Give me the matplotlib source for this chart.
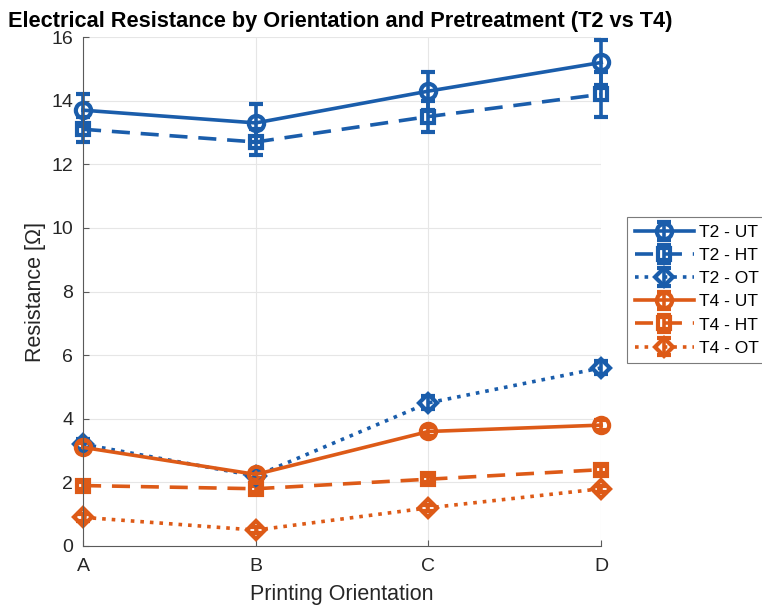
import numpy as np
import matplotlib.pyplot as plt

plt.rcParams['font.family'] = ['Liberation Sans', 'DejaVu Sans']

orientations = ['A', 'B', 'C', 'D']

t2_ut = [13.7, 13.3, 14.3, 15.2]
t2_ut_err = [0.5, 0.6, 0.6, 0.7]
t2_ht = [13.1, 12.7, 13.5, 14.2]
t2_ht_err = [0.4, 0.4, 0.5, 0.7]
t2_ot = [3.2, 2.2, 4.5, 5.6]
t2_ot_err = [0.15, 0.1, 0.2, 0.2]

t4_ut = [3.1, 2.25, 3.6, 3.8]
t4_ut_err = [0.15, 0.1, 0.15, 0.15]
t4_ht = [1.9, 1.8, 2.1, 2.4]
t4_ht_err = [0.1, 0.1, 0.1, 0.1]
t4_ot = [0.9, 0.5, 1.2, 1.8]
t4_ot_err = [0.1, 0.1, 0.1, 0.1]

blue = '#1A5DAB'
orange = '#DD5A17'
axcol = '#5a5a5a'

x = np.arange(len(orientations))

fig = plt.figure(figsize=(7.62, 6.07), dpi=100)
ax = fig.add_axes([0.109, 0.1005, 0.68, 0.8385])

series = [
    (t2_ut, t2_ut_err, blue, '-', 'o', 'T2 - UT'),
    (t2_ht, t2_ht_err, blue, (0, (5, 3)), 's', 'T2 - HT'),
    (t2_ot, t2_ot_err, blue, ':', 'D', 'T2 - OT'),
    (t4_ut, t4_ut_err, orange, '-', 'o', 'T4 - UT'),
    (t4_ht, t4_ht_err, orange, (0, (5, 3)), 's', 'T4 - HT'),
    (t4_ot, t4_ot_err, orange, ':', 'D', 'T4 - OT'),
]
marker_sizes = {'o': 11, 's': 9, 'D': 9}

for vals, err, col, ls, mk, lab in series:
    eb = ax.errorbar(x, vals, yerr=err, color=col, linestyle=ls, marker=mk,
                     markersize=marker_sizes[mk], markerfacecolor='none',
                     markeredgewidth=3, linewidth=2.6, elinewidth=2.6,
                     capsize=5, capthick=2.6, label=lab)
    for art in eb.lines[:1] + tuple(eb.lines[1]) + tuple(eb.lines[2]):
        art.set_clip_on(False)

ax.set_xlim(0, 3)
ax.set_ylim(0, 16)
ax.set_xticks(x)
ax.set_xticklabels(orientations)
ax.set_yticks(np.arange(0, 17, 2))
ax.tick_params(direction='in', labelsize=14, length=4, color=axcol,
               labelcolor='#262626')
ax.tick_params(axis='x', pad=9)
ax.tick_params(axis='y', pad=7)
ax.grid(True, color='#e6e6e6', linewidth=0.8)
ax.set_axisbelow(True)
for s in ['top', 'right']:
    ax.spines[s].set_visible(False)
for s in ['left', 'bottom']:
    ax.spines[s].set_color(axcol)

ax.set_xlabel('Printing Orientation', fontsize=15.5, color='#262626', labelpad=6)
ax.set_ylabel('Resistance [Ω]', fontsize=15.5, color='#262626')
fig.text(8 / 762, 1 - 22 / 607,
         'Electrical Resistance by Orientation and Pretreatment (T2 vs T4)',
         fontsize=15.7, fontweight='bold', ha='left', va='center')

leg = ax.legend(loc='upper left', bbox_to_anchor=(627 / 762, 1 - 217 / 607),
                bbox_transform=fig.transFigure, borderaxespad=0, fontsize=12.5,
                frameon=True, fancybox=False, edgecolor=axcol,
                handlelength=3.4, handletextpad=0.3, borderpad=0.45,
                labelspacing=0.46)
leg.get_frame().set_linewidth(0.8)

fig.savefig('out.png', dpi=100)
